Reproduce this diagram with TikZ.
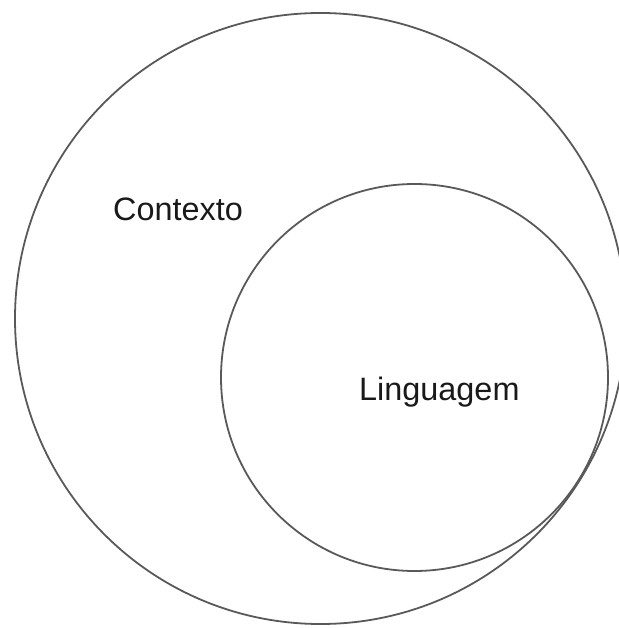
\documentclass[tikz,border=0pt]{standalone}
\usepackage{fontspec}
\setmainfont{Liberation Sans}
\begin{document}
\begin{tikzpicture}[x=1pt,y=-1pt,
  ring/.style={draw=black!65,line width=1.8pt},
  label/.style={anchor=base west,inner sep=0pt,font=\fontsize{32.4}{38}\selectfont,text=black!90}]
\useasboundingbox (0,0) rectangle (618,628);
\node[ring,circle,minimum size=611pt,inner sep=0pt] (contexto) at (320.5,318.5) {};
\node[ring,circle,minimum size=387pt,inner sep=0pt] (linguagem) at (414.5,377.5) {};
\node[label] (tcontexto) at (113,221) {Contexto};
\node[label] (tlinguagem) at (359,400) {Linguagem};
\end{tikzpicture}
\end{document}
